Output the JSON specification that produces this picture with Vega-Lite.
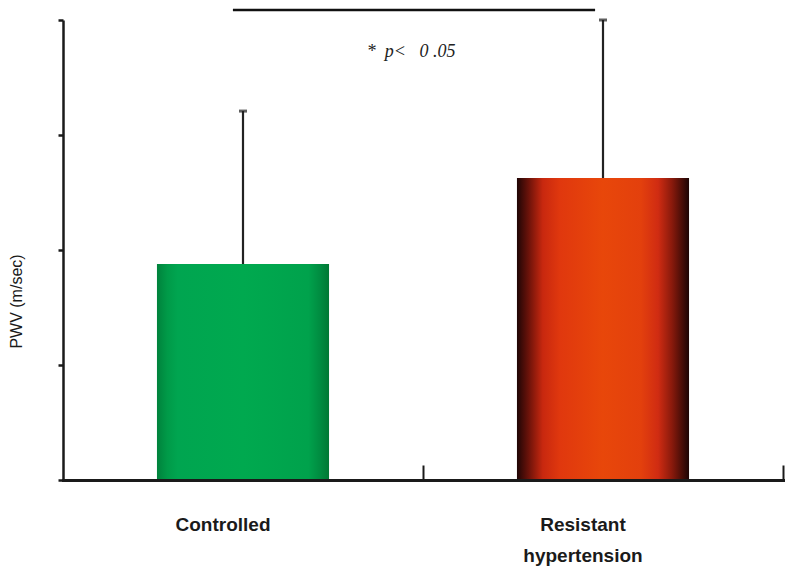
{
  "$schema": "https://vega.github.io/schema/vega-lite/v6.json",
  "autosize": "none",
  "width": 720,
  "height": 460,
  "padding": {"left": 63, "top": 20, "right": 2, "bottom": 90},
  "background": "white",
  "config": {"view": {"stroke": null}},
  "layer": [
    {
      "data": {"values": [
        {"group": "Controlled", "pwv": 9.39, "upper": 16.04},
        {"group": "Resistant hypertension", "pwv": 13.13, "upper": 20.0}
      ]},
      "encoding": {
        "x": {
          "field": "group", "type": "nominal", "sort": null,
          "scale": {"paddingInner": 0, "paddingOuter": 0},
          "axis": {
            "title": null, "bandPosition": 1, "labelOffset": -20, "labelAngle": 0,
            "labelExpr": "split(datum.label, ' ')",
            "labelFont": "Liberation Sans", "labelFontWeight": "bold", "labelFontSize": 19,
            "labelColor": "#1a1a1a", "labelLineHeight": 31, "labelPadding": 50,
            "domainColor": "#1a1a1a", "domainWidth": 3, "domainCap": "square",
            "tickColor": "#1a1a1a", "tickWidth": 2, "tickSize": -15, "zindex": 1
          }
        }
      },
      "layer": [
        {
          "mark": {"type": "bar", "width": {"band": 0.478}},
          "encoding": {
            "y": {
              "field": "pwv", "type": "quantitative",
              "scale": {"domain": [0, 20], "nice": false},
              "axis": {
                "title": "PWV (m/sec)", "values": [0, 5, 10, 15, 20], "labels": false, "grid": false,
                "domainColor": "#1a1a1a", "domainWidth": 2.5, "tickColor": "#1a1a1a", "tickWidth": 2.5, "tickSize": 5,
                "titleFont": "Liberation Sans", "titleFontSize": 16, "titleFontWeight": "normal", "titleColor": "#1a1a1a",
                "titleAngle": -90, "titleAlign": "center", "titleBaseline": "middle", "titleX": -47, "titleY": 281
              }
            },
            "fill": {
              "condition": {
                "test": "datum.group === 'Controlled'",
                "value": {"gradient": "linear", "x1": 0, "x2": 1, "y1": 0, "y2": 0, "stops": [
                  {"offset": 0, "color": "#00823c"},
                  {"offset": 0.06, "color": "#009a48"},
                  {"offset": 0.12, "color": "#00a550"},
                  {"offset": 0.5, "color": "#00a94f"},
                  {"offset": 0.88, "color": "#00a24c"},
                  {"offset": 0.95, "color": "#008b40"},
                  {"offset": 1, "color": "#007834"}
                ]}
              },
              "value": {"gradient": "linear", "x1": 0, "x2": 1, "y1": 0, "y2": 0, "stops": [
                {"offset": 0, "color": "#1f0505"},
                {"offset": 0.07, "color": "#6e130a"},
                {"offset": 0.15, "color": "#c8280f"},
                {"offset": 0.25, "color": "#e0380e"},
                {"offset": 0.5, "color": "#e8470a"},
                {"offset": 0.72, "color": "#e3400d"},
                {"offset": 0.82, "color": "#d02c12"},
                {"offset": 0.9, "color": "#8a1a0c"},
                {"offset": 1, "color": "#1c0404"}
              ]}
            }
          }
        },
        {
          "mark": {"type": "rule", "color": "#222222", "strokeWidth": 2.2},
          "encoding": {
            "y": {"field": "pwv", "type": "quantitative"},
            "y2": {"field": "upper"}
          }
        },
        {
          "mark": {"type": "tick", "color": "#1a1a1a", "thickness": 3, "size": 8},
          "encoding": {
            "y": {"field": "upper", "type": "quantitative"}
          }
        }
      ]
    },
    {
      "data": {"values": [{"a": 0.472, "b": 1.478, "lineY": 20.43, "tx": 0.844, "ty": 18.6, "label": "*\u00a0\u00a0p<\u00a0\u00a0\u00a00\u00a0.05"}]},
      "encoding": {
        "x": {"field": "a", "type": "quantitative", "scale": {"domain": [0, 2], "nice": false, "zero": false}, "axis": null}
      },
      "layer": [
        {
          "mark": {"type": "rule", "color": "#111111", "strokeWidth": 2.5},
          "encoding": {
            "x2": {"field": "b"},
            "y": {"field": "lineY", "type": "quantitative"}
          }
        },
        {
          "mark": {"type": "text", "font": "Liberation Serif", "fontStyle": "italic", "fontSize": 18, "color": "#222222", "align": "left", "baseline": "middle"},
          "encoding": {
            "x": {"field": "tx", "type": "quantitative"},
            "y": {"field": "ty", "type": "quantitative"},
            "text": {"field": "label"}
          }
        }
      ]
    }
  ],
  "resolve": {"scale": {"x": "independent"}, "axis": {"x": "independent"}}
}
